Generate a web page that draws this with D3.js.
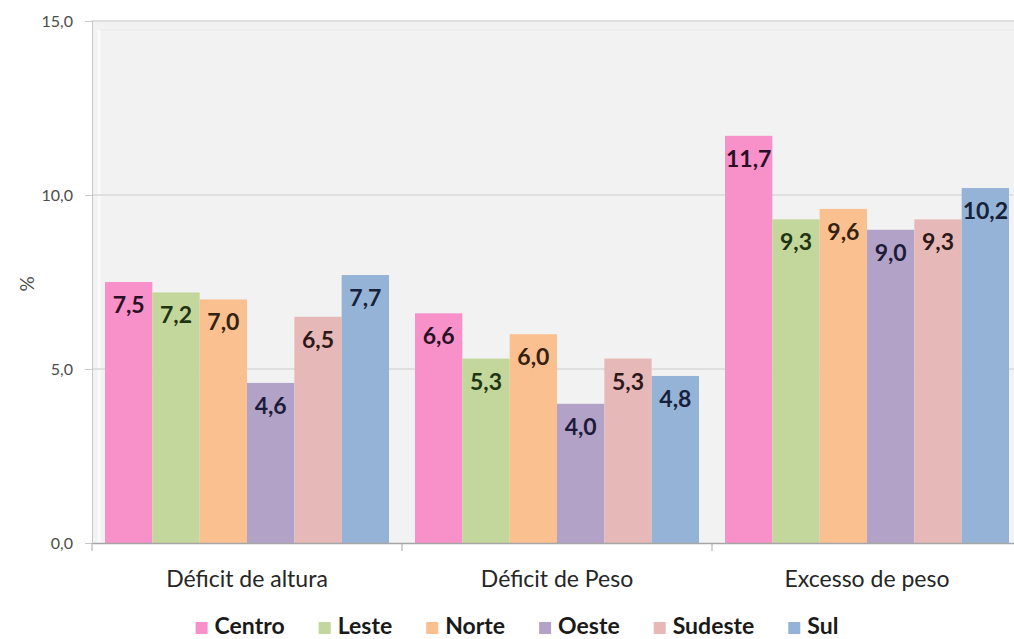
<!DOCTYPE html>
<html>
    <head>
        <meta charset="utf-8">
        <title>Déficit e excesso por região</title>
        <script type="text/javascript" src="https://cdn.jsdelivr.net/npm/d3@7"></script>
        <style>
            body { margin: 0; background: #fff; }
            text { font-family: Lato, "Open Sans", sans-serif; }
        </style>
    </head>
    <body>
        <svg id="svg"></svg>

        <script>
            var WIDTH = 1014;
            var HEIGHT = 639;

            // data
            var categories = ["Déficit de altura", "Déficit de Peso", "Excesso de peso"];
            var regions = ["Centro", "Leste", "Norte", "Oeste", "Sudeste", "Sul"];
            var centro  = [7.5, 6.6, 11.7];
            var leste   = [7.2, 5.3, 9.3];
            var norte   = [7.0, 6.0, 9.6];
            var oeste   = [4.6, 4.0, 9.0];
            var sudeste = [6.5, 5.3, 9.3];
            var sul     = [7.7, 4.8, 10.2];
            var yTicks  = [0, 5, 10, 15];

            var colors = ["#f891c9", "#c3d69b", "#fac090", "#b3a2c7", "#e6b9b8", "#95b3d7"];
            var labelColors = ["#2a1024", "#1f3512", "#35210f", "#1d1b3a", "#2d1818", "#15223a"];

            var series = [centro, leste, norte, oeste, sudeste, sul];

            var rows = [];
            categories.forEach(function(c, ci){
                regions.forEach(function(r, ri){
                    rows.push({cat: c, region: r, ri: ri, value: series[ri][ci]});
                });
            });

            var margin = {left: 92, top: 20, bottom: 543};

            var svg = d3.select('#svg')
                        .attr('width', WIDTH)
                        .attr('height', HEIGHT);

            var x0 = d3.scaleBand()
                       .domain(categories)
                       .range([margin.left, 1022])
                       .padding(0);
            var x1 = d3.scaleBand()
                       .domain(regions)
                       .range([13, x0.bandwidth() - 13])
                       .padding(0);
            var y = d3.scaleLinear()
                      .domain([0, 15])
                      .range([margin.bottom, 21]);

            // plot area
            svg.append('rect')
               .attr('x', margin.left)
               .attr('y', margin.top)
               .attr('width', WIDTH - margin.left)
               .attr('height', margin.bottom - margin.top)
               .attr('fill', '#f2f2f2');
            svg.append('line')
               .attr('x1', 99).attr('x2', WIDTH)
               .attr('y1', 30).attr('y2', 30)
               .attr('stroke', '#e8e8e8');
            svg.append('line')
               .attr('x1', 99).attr('x2', 99)
               .attr('y1', 30).attr('y2', margin.bottom)
               .attr('stroke', '#fafafa')
               .attr('stroke-width', 3);

            // gridlines
            svg.selectAll('line.grid')
               .data(yTicks.slice(1))
               .enter()
               .append('line')
               .attr('class', 'grid')
               .attr('x1', margin.left)
               .attr('x2', WIDTH)
               .attr('y1', function(d){ return y(d); })
               .attr('y2', function(d){ return y(d); })
               .attr('stroke', '#d9d9d9')
               .attr('stroke-width', 1.5);

            // bars
            svg.selectAll('rect.bar')
               .data(rows)
               .enter()
               .append('rect')
               .attr('class', 'bar')
               .attr('x', function(d){ return x0(d.cat) + x1(d.region); })
               .attr('y', function(d){ return y(d.value); })
               .attr('width', x1.bandwidth())
               .attr('height', function(d){ return y(0) - y(d.value); })
               .attr('fill', function(d){ return colors[d.ri]; });

            // value labels
            svg.selectAll('text.val')
               .data(rows)
               .enter()
               .append('text')
               .attr('class', 'val')
               .text(function(d){ return d3.format('.1f')(d.value).replace('.', ','); })
               .attr('x', function(d){ return x0(d.cat) + x1(d.region) + x1.bandwidth()/2; })
               .attr('y', function(d){ return y(d.value) + 31; })
               .attr('text-anchor', 'middle')
               .attr('font-size', '23px')
               .attr('font-weight', 'bold')
               .attr('fill', function(d){ return labelColors[d.ri]; });

            // y axis
            var yAxis = d3.axisLeft(y)
                          .tickValues(yTicks)
                          .tickSize(7)
                          .tickPadding(12)
                          .tickFormat(function(d){ return d3.format('.1f')(d).replace('.', ','); });
            var gy = svg.append('g')
                        .attr('transform', 'translate(' + margin.left + ',0)')
                        .call(yAxis);
            gy.select('.domain').attr('stroke', '#c8c8c8');
            gy.selectAll('.tick line').attr('stroke', '#c8c8c8');
            gy.selectAll('.tick text')
              .attr('font-family', 'Lato, sans-serif')
              .attr('font-size', '16px')
              .attr('fill', '#4d4d4d');

            // x axis
            var gx = svg.append('g')
                        .attr('transform', 'translate(0,' + margin.bottom + ')')
                        .call(d3.axisBottom(x0).tickSize(0).tickPadding(28));
            gx.select('.domain').attr('stroke', '#a6a6a6').attr('stroke-width', 1.5);
            gx.selectAll('.tick text')
              .attr('font-family', 'Lato, sans-serif')
              .attr('font-size', '23px')
              .attr('fill', '#262626');
            gx.selectAll('line.sep')
              .data(categories)
              .enter()
              .append('line')
              .attr('class', 'sep')
              .attr('x1', function(d){ return x0(d); })
              .attr('x2', function(d){ return x0(d); })
              .attr('y1', 0)
              .attr('y2', 8)
              .attr('stroke', '#a6a6a6');

            // y title
            svg.append('text')
               .text('%')
               .attr('transform', 'translate(26,284) rotate(-90)')
               .attr('text-anchor', 'middle')
               .attr('dominant-baseline', 'central')
               .attr('font-size', '19px')
               .attr('fill', '#4d4d4d');

            // legend
            var GAP = 34;
            var legend = svg.append('g');
            var lx = 0;
            regions.forEach(function(r, i){
                var g = legend.append('g').attr('transform', 'translate(' + lx + ',0)');
                g.append('rect')
                 .attr('x', 0).attr('y', -12)
                 .attr('width', 12).attr('height', 12)
                 .attr('fill', colors[i]);
                var t = g.append('text')
                 .text(r)
                 .attr('x', 19)
                 .attr('y', 0)
                 .attr('font-size', '23px')
                 .attr('font-weight', 'bold')
                 .attr('fill', '#1a1a1a');
                lx += 19 + t.node().getComputedTextLength() + GAP;
            });
            var lw = lx - GAP;
            legend.attr('transform', 'translate(' + (517 - lw/2) + ',634)');
        </script>
    </body>
</html>
